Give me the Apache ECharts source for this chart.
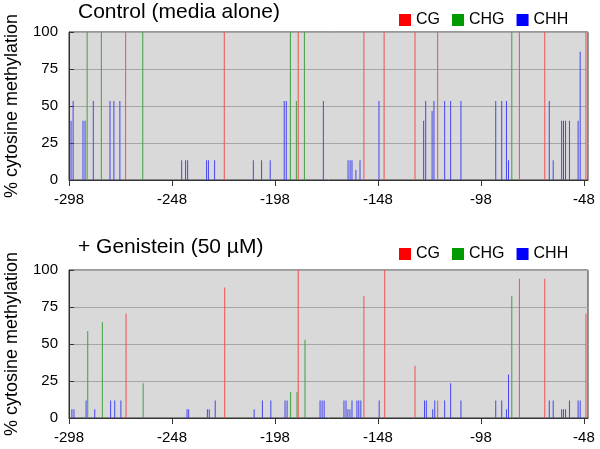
<!DOCTYPE html>
<html>
<head>
<meta charset="utf-8">
<script src="https://cdn.jsdelivr.net/npm/echarts@6/dist/echarts.min.js"></script>
<style>html,body{margin:0;padding:0;background:#fff}#c{width:600px;height:449px}</style>
</head>
<body>
<div id="c"></div>
<script>
// x-axis tick labels (position relative to TSS)
var xTicks = [-298, -248, -198, -148, -98, -48];
var yTicks = [0, 25, 50, 75, 100];
var seriesNames = ['CG', 'CHG', 'CHH'];
var panelTitles = ['Control (media alone)', '+ Genistein (50 \u00B5M)'];

// Control panel: [position, % methylation]
var ctrlCG = [[-270.5,100],[-222.6,100],[-186.7,100],[-154.8,100],[-145,100],[-130,100],[-119,100],[-79.3,100],[-67,100],[-47,100]];
var ctrlCHG = [[-289.2,100],[-282.3,100],[-262.2,100],[-190.5,100],[-187.6,53.3],[-183.7,100],[-83,100]];
var ctrlCHH = [[-297,40],[-296,53.3],[-291.2,40],[-290.2,40],[-286.2,53.3],[-278.1,53.3],[-276.2,53.3],[-273.3,53.3],
  [-243.3,13.3],[-241.4,13.3],[-240.4,13.3],[-231.2,13.3],[-230.3,13.3],[-227.3,13.3],[-208.5,13.3],[-204.5,13.3],[-200.3,13.3],
  [-193.5,53.3],[-192.5,53.3],[-174.5,53.3],[-162.5,13.3],[-161.5,13.3],[-160.6,13.3],[-158.7,6.7],[-156.7,13.3],[-147.5,53.3],
  [-125.8,40],[-124.8,53.3],[-121.7,46.7],[-120.8,53.3],[-115.6,53.3],[-112.7,53.3],[-107.7,53.3],[-90.8,53.3],[-87.9,53.3],
  [-85.6,53.3],[-84.6,13.3],[-64.8,53.3],[-62.9,13.3],[-58.8,40],[-57.9,40],[-56.9,40],[-55,40],[-50.8,40],[-49.8,86.7]];

// Genistein panel
var genCG = [[-270.3,70.6],[-222.4,88.2],[-186.7,100],[-154.8,82.4],[-144.7,100],[-130,35.3],[-119,11.8],[-79.3,94.1],[-67,94.1],[-47,70.6]];
var genCHG = [[-288.9,58.8],[-281.8,64.7],[-262,23.5],[-190.4,17.6],[-187.3,17.6],[-183.4,52.9],[-83,82.4]];
var genCHH = [[-296.6,5.9],[-295.6,5.9],[-289.7,11.8],[-285.5,5.9],[-277.8,11.8],[-275.8,11.8],[-272.8,11.8],
  [-240.7,5.9],[-239.9,5.9],[-230.8,5.9],[-229.9,5.9],[-227,11.8],[-208.1,5.9],[-204.1,11.8],[-200,11.8],
  [-193.1,11.8],[-192.1,11.8],[-176.1,11.8],[-175.1,11.8],[-174.1,11.8],[-164.5,11.8],[-163.5,11.8],[-162.6,5.9],
  [-161.6,5.9],[-160.6,11.8],[-158.2,11.8],[-157.3,11.8],[-156.3,11.8],[-147.4,11.8],[-125.4,11.8],[-124.5,11.8],
  [-121.4,5.9],[-120.4,11.8],[-115.6,11.8],[-112.7,23.5],[-107.7,11.8],[-90.8,11.8],[-87.9,11.8],[-85.6,5.9],
  [-84.6,29.4],[-64.8,11.8],[-62.9,11.8],[-58.8,5.9],[-57.9,5.9],[-56.9,5.9],[-55,11.8],[-50.8,11.8],[-49.8,11.8]];

var barColors = ['#f05050', '#40a040', '#4545f0'];
var legendColors = ['#ff0000', '#009900', '#0000ff'];
var FONT = 'Liberation Sans, Arial, sans-serif';

var panels = [[ctrlCG, ctrlCHG, ctrlCHH], [genCG, genCHG, genCHH]];
var gridTops = [32, 270];
var titleTops = [2, 237];
var legendTops = [12, 246];

var grids = [], xAxes = [], yAxes = [], series = [], titles = [], legends = [];
gridTops.forEach(function (t, i) {
  grids.push({left: 69, top: t, width: 519, height: 148, containLabel: false, outerBoundsMode: 'none',
    show: true, backgroundColor: '#d9d9d9', borderColor: '#333', borderWidth: 1});
  xAxes.push({
    type: 'value', gridIndex: i, min: -298, max: -46,
    axisLine: {onZero: false, lineStyle: {color: '#333', width: 1}},
    axisTick: {customValues: xTicks, length: 6, lineStyle: {color: '#333'}},
    axisLabel: {customValues: xTicks, color: '#000', fontSize: 15, fontFamily: FONT, margin: 12},
    splitLine: {show: false}
  });
  yAxes.push({
    type: 'value', gridIndex: i, min: 0, max: 100, interval: 25,
    name: '% cytosine methylation', nameLocation: 'middle', nameGap: 48,
    nameTextStyle: {fontSize: 18, fontFamily: FONT, color: '#000'},
    axisLine: {show: true, lineStyle: {color: '#333'}},
    axisTick: {show: true, inside: true, length: 5, lineStyle: {color: '#333'}},
    axisLabel: {color: '#000', fontSize: 15, fontFamily: FONT, margin: 11},
    splitLine: {show: true, lineStyle: {color: '#a6a6a6', width: 1}}
  });
  titles.push({text: panelTitles[i], left: 78, top: titleTops[i], padding: 0,
    textStyle: {fontSize: 21, fontWeight: 'normal', fontFamily: FONT, color: '#000'}});
  legends.push({
    left: 399, top: legendTops[i], padding: 0, itemWidth: 12, itemHeight: 12, itemGap: 12, icon: 'rect',
    textStyle: {fontSize: 16, fontFamily: FONT, color: '#000'},
    data: seriesNames.map(function (n, k) { return {name: n, itemStyle: {color: legendColors[k]}}; })
  });
  panels[i].forEach(function (d, k) {
    series.push({
      name: seriesNames[k], type: 'bar', xAxisIndex: i, yAxisIndex: i,
      data: d, barWidth: 1, barGap: '-100%',
      itemStyle: {color: barColors[k]}, silent: true
    });
  });
});

var chart = echarts.init(document.getElementById('c'), null, {renderer: 'canvas'});
chart.setOption({
  animation: false,
  title: titles,
  legend: legends,
  grid: grids,
  xAxis: xAxes,
  yAxis: yAxes,
  series: series
});
</script>
</body>
</html>
